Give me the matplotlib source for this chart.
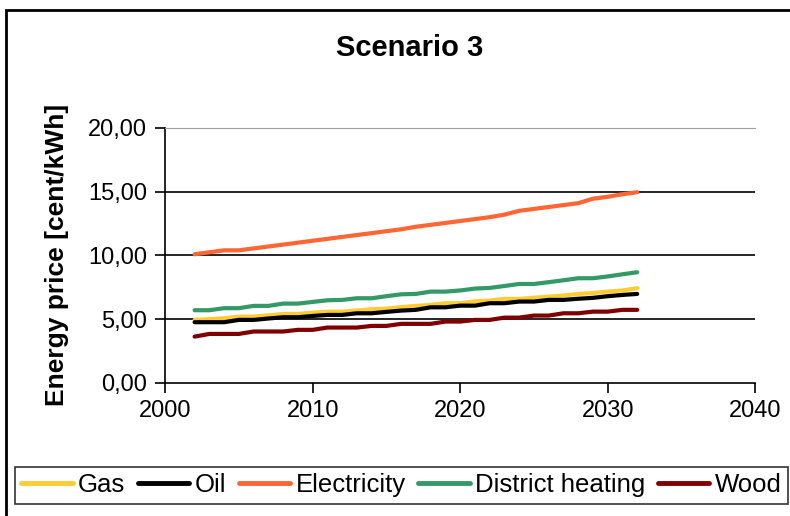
import matplotlib
matplotlib.use("Agg")
import matplotlib.pyplot as plt
from matplotlib.patches import Rectangle
from matplotlib.ticker import FuncFormatter

plt.rcParams['font.family'] = ['Liberation Sans', 'DejaVu Sans']

# yearly energy prices, cent/kWh
years = list(range(2002, 2033))
gas = [4.94, 5.00, 5.07, 5.20, 5.20, 5.30, 5.41, 5.41, 5.50, 5.59, 5.59,
       5.68, 5.78, 5.82, 5.95, 6.04, 6.12, 6.25, 6.25, 6.40, 6.46, 6.59,
       6.59, 6.68, 6.77, 6.85, 6.98, 7.05, 7.16, 7.25, 7.43]
oil = [4.76, 4.76, 4.76, 4.94, 4.94, 5.05, 5.15, 5.15, 5.25, 5.33, 5.33,
       5.46, 5.46, 5.57, 5.67, 5.73, 5.93, 5.93, 6.06, 6.06, 6.25, 6.25,
       6.38, 6.38, 6.51, 6.51, 6.60, 6.67, 6.80, 6.90, 6.98]
electricity = [10.09, 10.25, 10.40, 10.40, 10.55, 10.70, 10.85, 11.00,
               11.15, 11.30, 11.45, 11.60, 11.75, 11.90, 12.05, 12.25,
               12.40, 12.55, 12.70, 12.85, 13.00, 13.20, 13.50, 13.65,
               13.80, 13.95, 14.10, 14.45, 14.60, 14.80, 14.96]
district_heating = [5.70, 5.70, 5.86, 5.86, 6.04, 6.04, 6.22, 6.22, 6.35,
                    6.48, 6.51, 6.64, 6.64, 6.80, 6.95, 6.98, 7.16, 7.16,
                    7.25, 7.40, 7.45, 7.60, 7.76, 7.76, 7.90, 8.05, 8.21,
                    8.21, 8.35, 8.52, 8.68]
wood = [3.63, 3.84, 3.84, 3.84, 4.03, 4.03, 4.03, 4.16, 4.16, 4.34, 4.34,
        4.34, 4.47, 4.47, 4.63, 4.63, 4.63, 4.81, 4.81, 4.94, 4.94, 5.12,
        5.12, 5.28, 5.28, 5.46, 5.46, 5.59, 5.59, 5.73, 5.73]

series = [("Gas", gas, "#FFCC33"),
          ("Oil", oil, "#000000"),
          ("Electricity", electricity, "#FF6633"),
          ("District heating", district_heating, "#339966"),
          ("Wood", wood, "#800000")]

fig = plt.figure(figsize=(7.9, 5.16), dpi=100)
ax = fig.add_axes([0.209, 0.258, 0.747, 0.494])

for name, vals, col in series:
    ax.plot(years, vals, color=col, lw=3, label=name, solid_capstyle="round")

ax.set_xlim(2000, 2040)
ax.set_ylim(0, 20)
ax.set_xticks(range(2000, 2041, 10))
ax.set_yticks(range(0, 21, 5))
ax.yaxis.set_major_formatter(FuncFormatter(lambda v, p: f"{v:.2f}".replace(".", ",")))
for y in (5, 10, 15):
    ax.axhline(y, color="black", lw=1.2, zorder=0)

ax.spines["top"].set_color("#a0a0a0")
ax.spines["right"].set_visible(False)
ax.spines["left"].set_linewidth(1.2)
ax.spines["bottom"].set_linewidth(1.2)
ax.tick_params(axis="both", labelsize=17, length=7, width=1.2, direction="out")
ax.tick_params(axis="y", pad=6)
ax.tick_params(axis="x", pad=5)

ax.set_ylabel("Energy price [cent/kWh]", fontsize=19, fontweight="bold", labelpad=14)
fig.text(0.519, 0.907, "Scenario 3", ha="center", va="center",
         fontsize=21, fontweight="bold")

# outer chart frame
fig.patches.append(Rectangle((6 / 790, -0.05), 1.1, 1 - 10 / 516 + 0.05,
                             transform=fig.transFigure, fill=False,
                             edgecolor="black", lw=2))

leg = fig.legend(loc="upper left", bbox_to_anchor=(15 / 790, 1 - 467 / 516), ncol=5,
                 fontsize=18.5, frameon=True, fancybox=False, edgecolor="black",
                 handlelength=2.0, handletextpad=0.2, columnspacing=0.5,
                 borderpad=0.25, borderaxespad=0)
leg.get_frame().set_linewidth(1.2)
for line in leg.get_lines():
    line.set_linewidth(3.5)

fig.savefig("out.png", dpi=100)
